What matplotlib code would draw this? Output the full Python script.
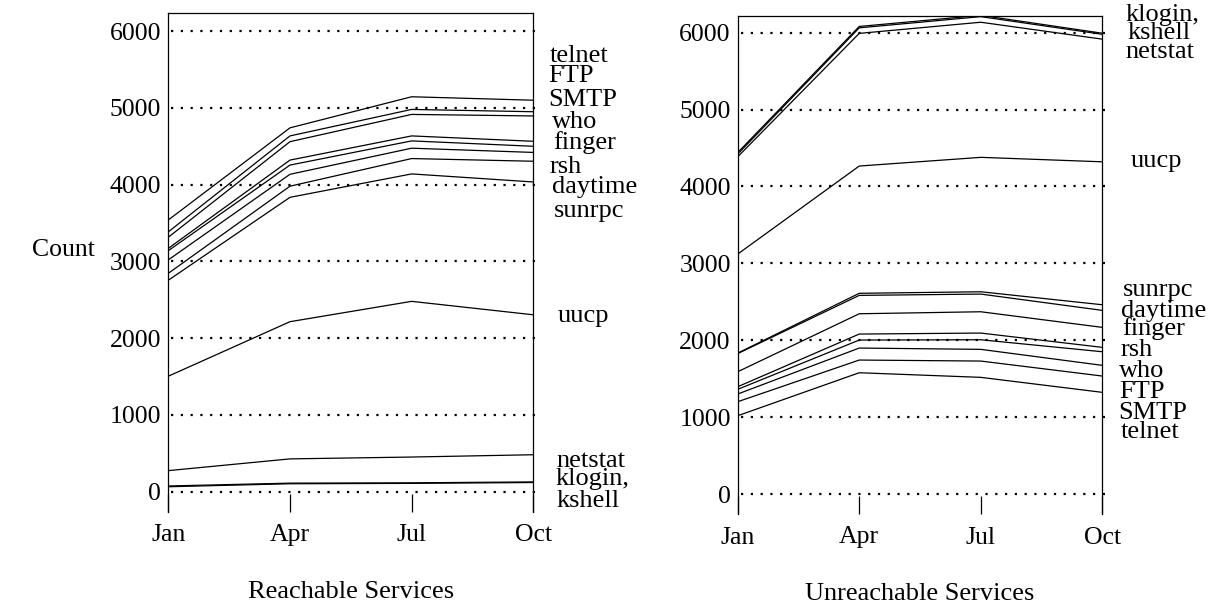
#!/usr/bin/env python3

import matplotlib

matplotlib.use("Agg")
import matplotlib.pyplot as plt

plt.rcParams["font.family"] = ["Liberation Serif", "DejaVu Serif"]

# ---- data ----
months = ["Jan", "Apr", "Jul", "Oct"]

reach_telnet = [3540, 4740, 5145, 5100]
reach_ftp = [3385, 4635, 4980, 4950]
reach_smtp = [3315, 4560, 4915, 4895]
reach_who = [3170, 4320, 4635, 4565]
reach_finger = [3140, 4255, 4570, 4500]
reach_rsh = [3020, 4135, 4475, 4420]
reach_daytime = [2845, 3980, 4340, 4305]
reach_sunrpc = [2755, 3835, 4140, 4035]
reach_uucp = [1505, 2215, 2480, 2305]
reach_netstat = [275, 428, 452, 482]
reach_klogin = [75, 112, 116, 128]
reach_kshell = [65, 104, 109, 120]

unreach_klogin = [4440, 6080, 6225, 5992]
unreach_kshell = [4420, 6062, 6208, 5978]
unreach_netstat = [4385, 5990, 6135, 5915]
unreach_uucp = [3120, 4265, 4378, 4320]
unreach_sunrpc = [1832, 2610, 2630, 2461]
unreach_daytime = [1826, 2583, 2600, 2388]
unreach_finger = [1590, 2344, 2370, 2167]
unreach_rsh = [1395, 2080, 2093, 1907]
unreach_who = [1361, 2002, 2006, 1850]
unreach_ftp = [1300, 1898, 1881, 1673]
unreach_smtp = [1200, 1742, 1729, 1534]
unreach_telnet = [1018, 1577, 1517, 1322]

grid_values = [0, 1000, 2000, 3000, 4000, 5000, 6000]

reach_series = [reach_telnet, reach_ftp, reach_smtp, reach_who, reach_finger,
                reach_rsh, reach_daytime, reach_sunrpc, reach_uucp,
                reach_netstat, reach_klogin, reach_kshell]
unreach_series = [unreach_klogin, unreach_kshell, unreach_netstat, unreach_uucp,
                  unreach_sunrpc, unreach_daytime, unreach_finger, unreach_rsh,
                  unreach_who, unreach_ftp, unreach_smtp, unreach_telnet]

# service name labels: (text, left px, baseline px) in figure pixels
reach_labels = [("telnet", 550, 61.7), ("FTP", 548, 81.7), ("SMTP", 548, 106),
                ("who", 552, 128), ("finger", 553, 148.5), ("rsh", 550, 172.7),
                ("daytime", 552, 193.5), ("sunrpc", 554, 216.7),
                ("uucp", 558, 321.7), ("netstat", 556, 466.7),
                ("klogin,", 556, 485), ("kshell", 557, 506.7)]
unreach_labels = [("klogin,", 1126, 20.7), ("kshell", 1128, 39.3),
                  ("netstat", 1125, 58.3), ("uucp", 1131, 166.7),
                  ("sunrpc", 1123, 296), ("daytime", 1121, 316.7),
                  ("finger", 1122, 335), ("rsh", 1121, 356),
                  ("who", 1119, 377.3), ("FTP", 1119, 398.3),
                  ("SMTP", 1118, 419.3), ("telnet", 1121, 438.3)]

W, H = 1217, 607
TICK_FS = 18.5
LABEL_FS = 19


def px_rect(x0, top, x1, bottom):
    return [x0 / W, 1 - bottom / H, (x1 - x0) / W, (bottom - top) / H]


def draw_panel(fig, rect, series, ylim, xlabel, labels):
    ax = fig.add_axes(rect)
    x = list(range(len(months)))
    for values in series:
        ax.plot(x, values, color="black", linewidth=0.9)
    for v in grid_values:
        ax.plot([0.008, 1.012], [v, v], transform=ax.get_yaxis_transform(),
                color="black", linewidth=1.6, linestyle=(0, (1, 3.4)),
                clip_on=False)
    ax.set_xlim(0, len(months) - 1)
    ax.set_ylim(*ylim)
    ax.set_xticks(x)
    ax.set_xticklabels(months)
    ax.set_yticks(grid_values)
    ax.tick_params(axis="x", direction="in", length=13, width=0.9,
                   labelsize=TICK_FS, pad=9)
    ax.tick_params(axis="y", length=0, labelsize=TICK_FS, pad=5)
    ax.spines["bottom"].set_visible(False)
    for side in ("left", "right", "top"):
        ax.spines[side].set_linewidth(0.9)
    ax.set_xlabel(xlabel, fontsize=LABEL_FS, labelpad=25)
    for text, lx, ly in labels:
        fig.text(lx / W, 1 - ly / H, text, fontsize=LABEL_FS,
                 ha="left", va="baseline")
    return ax


def main() -> None:
    fig = plt.figure(figsize=(W / 100, H / 100), dpi=100)
    draw_panel(fig, px_rect(168.3, 12.7, 533.3, 511.7), reach_series,
               (-260, 6240), "Reachable Services", reach_labels)
    draw_panel(fig, px_rect(737.7, 15.7, 1102.3, 514), unreach_series,
               (-260, 6220), "Unreachable Services", unreach_labels)
    fig.text(63 / W, 1 - 250 / H, "Count", fontsize=TICK_FS,
             ha="center", va="center")
    fig.savefig("out.png", dpi=100)
    plt.close(fig)


if __name__ == "__main__":
    main()
